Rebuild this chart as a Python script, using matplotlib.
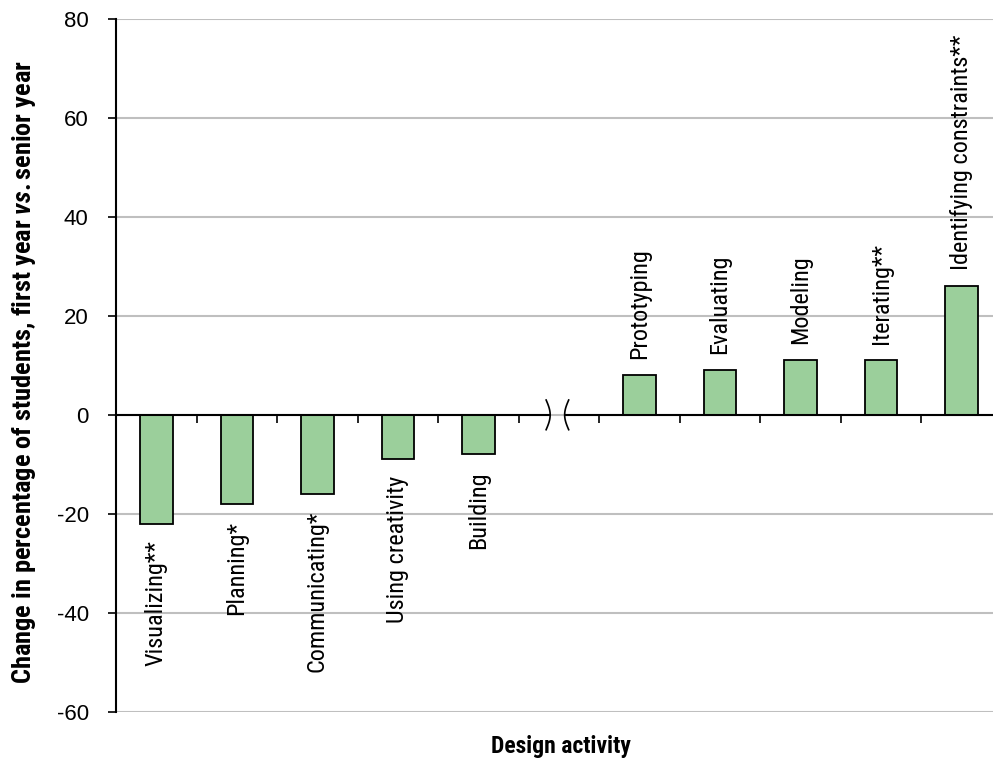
import numpy as np
import matplotlib
matplotlib.use("Agg")
import matplotlib.pyplot as plt

# data (gap slot between the two groups)
labels = ["Visualizing**", "Planning*", "Communicating*", "Using creativity", "Building",
          "", "Prototyping", "Evaluating", "Modeling", "Iterating**", "Identifying constraints**"]
values = [-22, -18, -16, -9, -8, np.nan, 8, 9, 11, 11, 26]
yticks = [-60, -40, -20, 0, 20, 40, 60, 80]

narrow = ["Roboto Condensed", "DejaVu Sans"]
plt.rcParams["mathtext.fontset"] = "custom"
plt.rcParams["mathtext.it"] = "Roboto Condensed:italic:bold"
plt.rcParams["mathtext.rm"] = "Roboto Condensed:bold"

fig = plt.figure(figsize=(9.93, 7.62), dpi=100)
ax = fig.add_axes([0.117, 0.066, 0.883, 0.909])

x = np.arange(len(labels))
ax.bar(x, values, width=0.4, color="#9bcf9b", edgecolor="black", linewidth=1.3, zorder=3)

for xi, v, lab in zip(x, values, labels):
    if np.isnan(v):
        continue
    if v < 0:
        ax.text(xi, v - 3.4, lab, rotation=90, ha="center", va="top",
                fontsize=17.5, family=narrow)
    else:
        ax.text(xi, v + 3.3, lab, rotation=90, ha="center", va="bottom",
                fontsize=17.5, family=narrow)

ax.set_ylim(-60, 80)
ax.set_xlim(-0.5, 10.39)
ax.set_yticks(yticks)
ax.set_yticklabels([str(t) for t in yticks], fontsize=16, family=["Liberation Sans", "DejaVu Sans"])
ax.yaxis.grid(True, color="#bfbfbf", linewidth=1.5, zorder=0)
ax.set_axisbelow(True)

for s in ["top", "right", "bottom"]:
    ax.spines[s].set_visible(False)
ax.spines["left"].set_linewidth(1.5)
ax.tick_params(axis="y", length=5.8, width=1.2, direction="out", pad=14)

# x axis on zero line, with tick marks between categories
ax.spines["bottom"].set_position(("data", 0))
ax.set_xticks([])
ax.set_xticks(np.arange(0.5, 10.5, 1), minor=True)
ax.tick_params(axis="x", which="minor", length=6, width=1.2, direction="out", labelbottom=False)

# zero line broken at the gap
ax.plot([-0.5, 4.87], [0, 0], color="black", lw=1.5, zorder=4, clip_on=False)
ax.plot([5.09, 10.39], [0, 0], color="black", lw=1.5, zorder=4, clip_on=False)
t = np.linspace(0, 1, 30)
yy = 3 - 6 * t
ax.plot(4.84 + 0.05 * np.sin(np.pi * t), yy, color="black", lw=1.2, zorder=4)
ax.plot(5.12 - 0.05 * np.sin(np.pi * t), yy, color="black", lw=1.2, zorder=4)

ax.set_ylabel(r"Change in percentage of students, first year $\it{vs.}$senior year",
              fontsize=19, family=narrow, fontweight="bold")
ax.yaxis.set_label_coords(-0.089, 0.49)
ax.set_xlabel("Design activity", fontsize=17, family=narrow, fontweight="bold")
ax.xaxis.set_label_coords(0.507, -0.034)

fig.savefig("out.png", dpi=100)
